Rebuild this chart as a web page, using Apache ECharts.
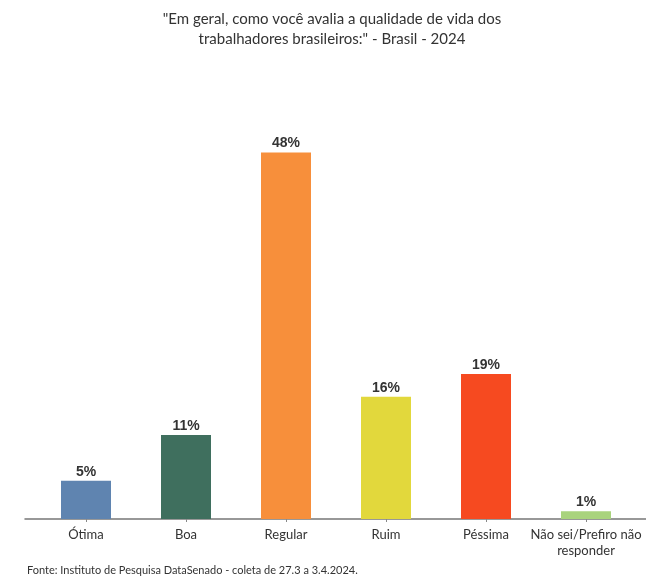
<!DOCTYPE html>
<html>
<head>
<meta charset="utf-8">
<script src="https://cdn.jsdelivr.net/npm/echarts@6/dist/echarts.min.js"></script>
<style>
html,body{margin:0;padding:0;background:#fff;}
#chart{width:646px;height:579px;}
</style>
</head>
<body>
<div id="chart"></div>
<script>
var categories = ['Ótima', 'Boa', 'Regular', 'Ruim', 'Péssima', 'Não sei/Prefiro não\nresponder'];
var values = [5, 11, 48, 16, 19, 1];
var barColors = ['#5f84b0', '#3f6f5e', '#f78f3b', '#e2d83c', '#f64a20', '#a9d37d'];
var titleText = '"Em geral, como você avalia a qualidade de vida dos\ntrabalhadores brasileiros:" - Brasil - 2024';
var sourceText = 'Fonte: Instituto de Pesquisa DataSenado - coleta de 27.3 a 3.4.2024.';

var chart = echarts.init(document.getElementById('chart'), null, {renderer: 'canvas'});
chart.setOption({
  backgroundColor: '#ffffff',
  animation: false,
  title: [{
    text: titleText,
    left: 327,
    top: 4,
    padding: 5,
    textAlign: 'center',
    textStyle: {fontFamily: 'Lato', fontSize: 15, fontWeight: 'normal', color: '#333333', lineHeight: 20, align: 'center'}
  }, {
    text: sourceText,
    left: 22,
    top: 560,
    textStyle: {fontFamily: 'Lato', fontSize: 11, fontWeight: 'normal', color: '#333333'}
  }],
  grid: [
    {left: 36, right: 10, top: 61, bottom: 60},
    {left: 25, right: 0, top: 61, bottom: 60}
  ],
  xAxis: [{
    type: 'category',
    gridIndex: 0,
    data: categories,
    axisLine: {show: false},
    axisTick: {show: true, alignWithLabel: true, length: 3, lineStyle: {color: '#888'}},
    axisLabel: {fontFamily: 'Lato', fontSize: 13, color: '#333', margin: 8, lineHeight: 16, interval: 0}
  }, {
    type: 'value',
    gridIndex: 1,
    min: 0, max: 1,
    axisLine: {show: true, onZero: false, lineStyle: {color: '#777', width: 1.5}},
    axisTick: {show: false},
    axisLabel: {show: false},
    splitLine: {show: false}
  }],
  yAxis: [{
    type: 'value', gridIndex: 0, min: 0, max: 60, show: false
  }, {
    type: 'value', gridIndex: 1, min: 0, max: 60, show: false
  }],
  series: [{
    type: 'bar',
    xAxisIndex: 0,
    yAxisIndex: 0,
    barWidth: 50,
    data: values.map(function (v, i) { return {value: v, itemStyle: {color: barColors[i]}}; }),
    label: {
      show: true,
      position: 'top',
      distance: 2,
      formatter: function (p) { return p.value + '%'; },
      fontFamily: 'Liberation Sans',
      fontWeight: 'bold',
      fontSize: 14,
      color: '#333'
    }
  }]
});
</script>
</body>
</html>
